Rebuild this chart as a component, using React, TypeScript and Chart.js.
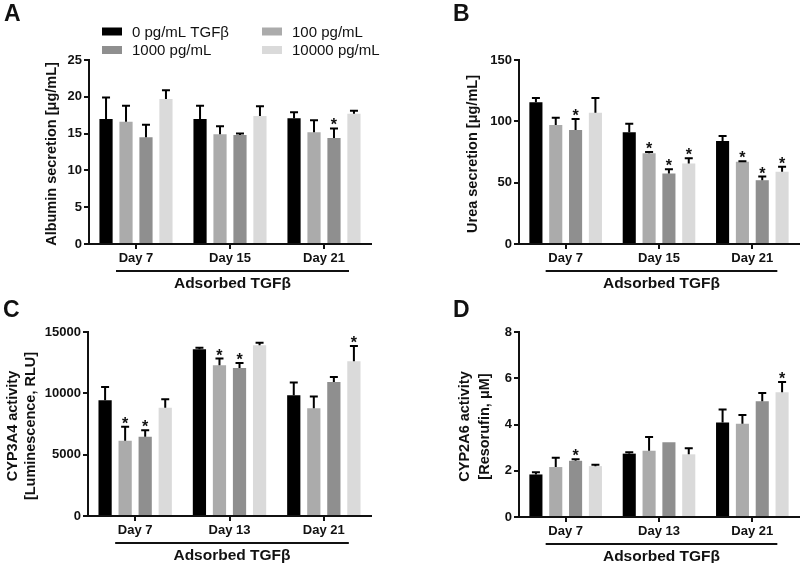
import React, { useEffect, useRef } from 'react';
import { Chart, registerables } from 'chart.js';

Chart.register(...registerables);

const FONT = '"Liberation Sans", Arial, Helvetica, sans-serif';

const seriesLabels = ['0 pg/mL TGFβ', '100 pg/mL', '1000 pg/mL', '10000 pg/mL'];
const seriesColors = ['#000000', '#ababab', '#8f8f8f', '#dadada'];

const daysAB = ['Day 7', 'Day 15', 'Day 21'];
const daysCD = ['Day 7', 'Day 13', 'Day 21'];

// Panel A: Albumin secretion (µg/mL); rows = series, columns = days
const albuminMean = [
  [17.0, 17.0, 17.1],
  [16.6, 14.9, 15.2],
  [14.5, 14.8, 14.4],
  [19.7, 17.4, 17.7],
];
const albuminSD = [
  [2.9, 1.8, 0.8],
  [2.2, 1.1, 1.6],
  [1.7, 0.2, 1.3],
  [1.2, 1.3, 0.4],
];
const albuminSig = [
  [0, 0, 0],
  [0, 0, 0],
  [0, 0, 1],
  [0, 0, 0],
];

// Panel B: Urea secretion (µg/mL)
const ureaMean = [
  [115.5, 91, 84],
  [97, 74, 67],
  [93, 57.5, 52],
  [107, 65.6, 59],
];
const ureaSD = [
  [3.5, 7, 4],
  [6, 1, 0.5],
  [9, 3.5, 3],
  [12, 4.4, 4],
];
const ureaSig = [
  [0, 0, 0],
  [0, 1, 1],
  [1, 1, 1],
  [0, 1, 1],
];

// Panel C: CYP3A4 activity (RLU)
const cyp3a4Mean = [
  [9440, 13590, 9845],
  [6130, 12290, 8790],
  [6455, 12070, 10930],
  [8815, 13915, 12615],
];
const cyp3a4SD = [
  [1080, 135, 1030],
  [1140, 540, 950],
  [545, 410, 410],
  [705, 215, 1245],
];
const cyp3a4Sig = [
  [0, 0, 0],
  [1, 1, 0],
  [1, 1, 0],
  [0, 0, 1],
];

// Panel D: CYP2A6 activity (µM resorufin)
const cyp2a6Mean = [
  [1.84, 2.74, 4.09],
  [2.16, 2.87, 4.03],
  [2.43, 3.23, 5.01],
  [2.2, 2.71, 5.39],
];
const cyp2a6SD = [
  [0.09, 0.06, 0.56],
  [0.4, 0.59, 0.38],
  [0.07, 0, 0.35],
  [0.06, 0.26, 0.45],
];
const cyp2a6Sig = [
  [0, 0, 0],
  [0, 0, 0],
  [1, 0, 0],
  [0, 0, 1],
];

const xGroupLabel = 'Adsorbed TGFβ';

type PanelCfg = {
  letter: string;
  days: string[];
  mean: number[][];
  sd: number[][];
  sig: number[][];
  max: number;
  step: number;
  title: string[];
  titleX: number[];
  x: number;
  y: number;
  w: number;
  h: number;
  area: { l: number; r: number; t: number; b: number };
  letterPos: [number, number];
  legend: boolean;
};

const panels: PanelCfg[] = [
  {
    letter: 'A', days: daysAB, mean: albuminMean, sd: albuminSD, sig: albuminSig,
    max: 25, step: 5, title: ['Albumin secretion [μg/mL]'], titleX: [52],
    x: 0, y: 0, w: 400, h: 290, area: { l: 89, r: 371, t: 60, b: 244 },
    letterPos: [4, 21], legend: true,
  },
  {
    letter: 'B', days: daysAB, mean: ureaMean, sd: ureaSD, sig: ureaSig,
    max: 150, step: 50, title: ['Urea secretion [μg/mL]'], titleX: [73],
    x: 400, y: 0, w: 400, h: 290, area: { l: 119, r: 399, t: 60, b: 244 },
    letterPos: [53, 21], legend: false,
  },
  {
    letter: 'C', days: daysCD, mean: cyp3a4Mean, sd: cyp3a4SD, sig: cyp3a4Sig,
    max: 15000, step: 5000, title: ['CYP3A4 activity', '[Luminescence, RLU]'], titleX: [13, 31],
    x: 0, y: 290, w: 400, h: 273, area: { l: 88, r: 371, t: 42, b: 226 },
    letterPos: [3, 27], legend: false,
  },
  {
    letter: 'D', days: daysCD, mean: cyp2a6Mean, sd: cyp2a6SD, sig: cyp2a6Sig,
    max: 8, step: 2, title: ['CYP2A6 activity', '[Resorufin, μM]'], titleX: [65, 85],
    x: 400, y: 290, w: 400, h: 273, area: { l: 119, r: 399, t: 42, b: 227 },
    letterPos: [53, 27], legend: false,
  },
];

const XH = 40;

function Panel({ cfg }: { cfg: PanelCfg }) {
  const ref = useRef<HTMLCanvasElement>(null);
  useEffect(() => {
    if (!ref.current) return;
    const overlay = {
      id: 'overlay' + cfg.letter,
      afterDatasetsDraw(chart: any) {
        const ctx = chart.ctx;
        const ys = chart.scales.y;
        ctx.save();
        chart.data.datasets.forEach((ds: any, i: number) => {
          const meta = chart.getDatasetMeta(i);
          meta.data.forEach((el: any, j: number) => {
            const top = ys.getPixelForValue(cfg.mean[i][j] + cfg.sd[i][j]);
            ctx.strokeStyle = '#000';
            ctx.lineWidth = 2;
            if (cfg.sd[i][j] > 0) {
              ctx.beginPath();
              ctx.moveTo(el.x, el.y);
              ctx.lineTo(el.x, top);
              ctx.moveTo(el.x - 4, top);
              ctx.lineTo(el.x + 4, top);
              ctx.stroke();
            }
            if (cfg.sig[i][j]) {
              ctx.fillStyle = '#111';
              ctx.font = `bold 16px ${FONT}`;
              ctx.textAlign = 'center';
              ctx.textBaseline = 'alphabetic';
              ctx.fillText('*', el.x, top + 2);
            }
          });
        });
        ctx.restore();
      },
      afterDraw(chart: any) {
        const ctx = chart.ctx;
        const xs = chart.scales.x;
        const ca = chart.chartArea;
        ctx.save();
        ctx.fillStyle = '#111';
        // panel letter
        ctx.font = `bold 23px ${FONT}`;
        ctx.textAlign = 'left';
        ctx.textBaseline = 'alphabetic';
        ctx.fillText(cfg.letter, cfg.letterPos[0], cfg.letterPos[1]);
        // y title
        ctx.font = `bold 14.5px ${FONT}`;
        ctx.textAlign = 'center';
        ctx.textBaseline = 'middle';
        const cy = (ca.top + ca.bottom) / 2 + 2;
        cfg.title.forEach((t, k) => {
          ctx.save();
          ctx.translate(cfg.titleX[k], cy);
          ctx.rotate(-Math.PI / 2);
          ctx.fillText(t, 0, 0);
          ctx.restore();
        });
        // group line and label
        const x0 = xs.getPixelForValue(0) - 20;
        const x1 = xs.getPixelForValue(cfg.days.length - 1) + 25;
        ctx.strokeStyle = '#111';
        ctx.lineWidth = 2;
        ctx.beginPath();
        ctx.moveTo(x0, ca.bottom + 27);
        ctx.lineTo(x1, ca.bottom + 27);
        ctx.stroke();
        ctx.font = `bold 15.5px ${FONT}`;
        ctx.fillText(xGroupLabel, (x0 + x1) / 2, ca.bottom + 40);
        // legend
        if (cfg.legend) {
          const cols = [102, 262];
          const rows = [31.5, 50];
          ctx.font = `15px ${FONT}`;
          ctx.textAlign = 'left';
          ctx.textBaseline = 'middle';
          chart.data.datasets.forEach((ds: any, i: number) => {
            const cx = cols[i % 2];
            const ry = rows[Math.floor(i / 2)];
            ctx.fillStyle = ds.backgroundColor;
            ctx.fillRect(cx, ry - 4, 20, 8);
            ctx.fillStyle = '#111';
            ctx.fillText(ds.label, cx + 30, ry + 1);
          });
        }
        ctx.restore();
      },
    };

    const chart = new Chart(ref.current, {
      type: 'bar',
      data: {
        labels: cfg.days,
        datasets: seriesLabels.map((label, i) => ({
          label,
          data: cfg.mean[i],
          backgroundColor: seriesColors[i],
          borderWidth: 0,
          barPercentage: 0.66,
          categoryPercentage: 0.85,
        })),
      },
      options: {
        responsive: false,
        maintainAspectRatio: false,
        animation: false,
        devicePixelRatio: 1,
        layout: {
          padding: {
            left: 0,
            top: cfg.area.t,
            right: cfg.w - cfg.area.r,
            bottom: cfg.h - cfg.area.b - XH,
          },
        },
        plugins: {
          legend: { display: false },
          tooltip: { enabled: false },
        },
        scales: {
          x: {
            type: 'category',
            offset: true,
            grid: {
              offset: false,
              drawOnChartArea: false,
              drawTicks: true,
              tickLength: 5,
              lineWidth: 2,
              color: '#111',
            },
            border: { display: true, width: 2, color: '#111' },
            ticks: {
              color: '#111',
              font: { family: FONT, size: 13, weight: 'bold' },
              padding: 2,
              maxRotation: 0,
              autoSkip: false,
            },
            afterFit: (s: any) => { s.height = XH; },
          },
          y: {
            min: 0,
            max: cfg.max,
            grid: {
              drawOnChartArea: false,
              drawTicks: true,
              tickLength: 5,
              lineWidth: 2,
              color: '#111',
            },
            border: { display: true, width: 2, color: '#111' },
            ticks: {
              stepSize: cfg.step,
              color: '#111',
              font: { family: FONT, size: 13, weight: 'bold' },
              padding: 2,
              callback: (v: any) => String(v),
            },
            afterFit: (s: any) => { s.width = cfg.area.l; },
          },
        },
      },
      plugins: [overlay],
    } as any);
    return () => chart.destroy();
  }, []);
  return (
    <canvas
      ref={ref}
      width={cfg.w}
      height={cfg.h}
      style={{ position: 'absolute', left: cfg.x, top: cfg.y, width: cfg.w, height: cfg.h, display: 'block' }}
    />
  );
}

export default function App() {
  return (
    <div style={{ position: 'absolute', left: 0, top: 0, width: 800, height: 563, background: '#fff', overflow: 'hidden' }}>
      {panels.map((p) => (
        <Panel key={p.letter} cfg={p} />
      ))}
    </div>
  );
}
